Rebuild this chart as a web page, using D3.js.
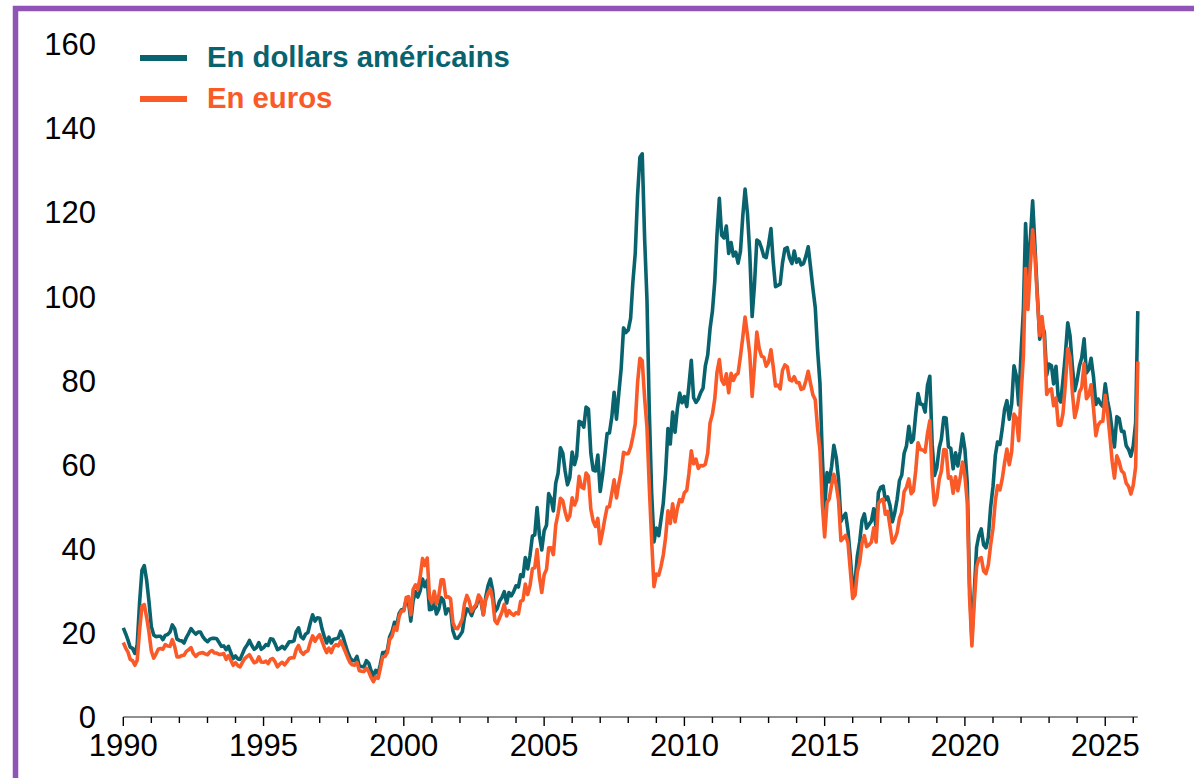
<!DOCTYPE html>
<html lang="fr">
<head>
<meta charset="utf-8">
<title>Prix du pétrole</title>
<script src="https://cdn.jsdelivr.net/npm/d3@7"></script>
<style>
  body { margin: 0; background: #fff; }
  text { font-family: "Liberation Sans", Arial, sans-serif; }
</style>
</head>
<body>
<script>
// monthly values, Jan 1990 .. Mar 2026
const firstMonth = new Date(1990, 0, 1)
const lastMonth = new Date(2026, 2, 1)

const usd = [
  21.2,19.8,18.4,16.6,16.3,15.1,17.2,27.2,34.9,36.0,32.5,27.5,
  21.5,19.5,19.1,19.2,19.2,18.4,19.4,19.6,20.2,21.9,21.0,18.5,
  18.2,18.1,17.6,18.9,19.9,21.0,20.3,19.7,20.2,20.2,19.1,18.4,
  17.9,18.5,18.7,18.7,18.6,17.7,16.8,16.9,16.0,16.8,15.3,13.9,
  14.5,13.8,13.7,15.0,16.3,17.1,18.2,17.0,16.1,16.5,17.7,16.1,
  16.5,17.2,17.0,18.6,18.5,17.4,16.0,16.3,16.8,16.2,17.0,17.9,
  17.9,18.1,20.3,21.2,19.1,18.6,19.7,20.1,22.4,24.3,22.8,23.6,
  23.5,20.9,19.2,17.6,19.0,17.6,18.5,18.6,18.8,20.4,19.1,17.2,
  15.4,14.1,13.4,13.4,14.4,12.1,12.0,11.9,13.4,12.8,11.0,9.8,
  11.1,10.3,12.5,15.3,15.3,15.9,19.1,20.3,22.5,22.0,24.6,25.5,
  25.5,27.8,27.5,22.8,27.6,29.8,28.5,30.0,32.8,31.0,32.5,25.5,
  25.6,27.5,24.5,25.7,28.4,27.7,24.5,25.7,25.6,20.5,18.8,18.7,
  19.4,20.3,23.7,25.7,25.4,24.1,25.7,26.3,28.4,27.5,24.3,28.3,
  31.2,32.8,30.3,25.0,25.8,27.6,28.4,29.8,27.1,29.6,28.8,29.8,
  31.2,30.9,33.8,33.4,37.9,35.2,38.4,43.0,43.3,49.8,43.1,39.7,
  44.3,45.6,53.1,51.9,49.0,55.6,57.9,64.0,62.7,58.5,55.2,56.9,
  63.0,60.0,62.0,70.3,70.0,68.9,73.7,73.2,62.7,58.7,58.5,62.3,
  53.6,57.6,62.1,67.4,67.5,71.3,77.2,70.8,77.1,82.9,92.5,91.4,
  92.0,94.8,103.3,110.2,123.9,133.1,133.9,113.9,99.1,72.8,53.2,41.6,
  44.9,43.1,46.8,50.8,57.9,68.6,64.9,72.5,67.7,73.2,77.0,74.7,
  76.2,73.8,78.8,84.8,75.9,74.8,75.6,77.1,78.2,83.5,86.1,92.3,
  96.5,103.7,114.6,123.3,114.5,113.9,116.7,110.2,112.8,109.6,110.5,107.9,
  110.7,119.3,125.5,119.8,110.3,95.2,102.6,113.4,113.0,111.5,109.5,109.2,
  112.3,116.1,108.5,102.3,102.6,102.9,107.9,111.3,111.6,109.1,107.8,110.8,
  108.1,108.9,107.5,107.8,109.5,111.8,107.0,101.9,97.3,87.3,79.4,62.3,
  49.5,58.1,55.9,59.5,64.6,61.7,56.5,46.5,47.6,48.4,44.3,38.0,
  30.7,32.2,38.2,41.6,46.7,48.3,44.9,45.8,46.6,49.5,44.9,53.3,
  54.6,54.9,51.6,52.3,50.3,46.4,48.5,51.7,56.2,57.5,62.7,64.4,
  69.1,65.3,66.0,72.1,76.9,74.4,74.3,72.5,78.9,81.0,64.8,57.4,
  59.4,64.0,66.1,71.2,71.1,64.2,63.9,59.0,62.8,59.7,63.2,67.3,
  63.6,55.5,32.0,18.4,29.4,40.3,43.2,44.7,40.9,40.2,42.7,49.9,
  54.8,62.3,65.4,64.8,68.5,73.2,75.2,70.8,74.5,83.5,81.1,74.2,
  86.5,97.1,117.3,104.6,113.3,122.7,111.9,100.5,89.8,93.3,91.4,81.3,
  83.9,83.5,79.2,83.4,75.7,74.9,80.1,86.2,93.7,90.6,83.2,77.6,
  80.1,83.5,85.4,89.9,81.8,82.6,85.3,80.9,74.3,75.6,74.4,73.8,
  79.2,75.1,72.5,68.1,64.2,71.4,71.0,67.9,67.9,64.5,63.6,62.0,
  64.5,70.0,96.5
]

const eur = [
  17.7,16.4,15.5,13.7,13.4,12.3,13.5,20.6,26.4,26.7,23.7,20.2,
  15.7,14.0,14.9,16.1,16.3,16.1,17.2,16.9,16.8,18.4,16.8,14.3,
  14.3,14.6,14.7,15.6,16.0,16.5,15.1,14.4,15.0,15.2,15.3,15.0,
  14.8,15.5,15.8,15.2,15.2,14.9,14.9,15.1,13.7,14.6,13.5,12.3,
  12.9,12.2,11.9,13.0,13.9,14.4,14.8,13.8,12.9,13.1,14.3,13.1,
  13.0,13.3,12.7,13.7,13.9,13.1,11.9,12.6,13.0,12.4,13.1,13.9,
  14.1,14.1,16.0,17.0,15.5,14.9,15.5,15.8,17.8,19.3,18.0,18.9,
  19.6,18.0,16.6,15.3,16.4,15.3,16.7,17.2,16.9,18.1,16.8,15.5,
  14.1,12.9,12.4,12.3,13.0,11.0,10.9,10.8,11.6,10.8,9.4,8.4,
  9.6,9.2,11.5,14.3,14.4,15.3,18.4,19.2,21.4,20.6,23.9,25.2,
  25.2,28.4,28.6,24.3,30.3,31.4,30.3,33.3,37.7,36.0,37.8,28.3,
  27.2,29.9,26.9,28.9,32.6,32.6,28.5,28.6,28.1,22.5,21.1,21.0,
  22.0,23.3,26.9,28.9,27.6,25.1,26.0,26.8,29.0,28.1,24.3,27.7,
  29.4,30.4,28.1,22.9,22.2,23.6,24.9,26.8,24.0,25.3,24.6,24.2,
  24.8,24.5,27.5,27.8,31.6,29.1,31.2,35.2,35.5,39.8,33.2,29.6,
  33.8,35.1,40.2,40.2,38.6,45.6,48.3,52.0,51.4,48.8,46.8,47.8,
  52.1,50.4,51.7,57.2,54.7,54.3,58.0,57.2,49.4,46.6,45.3,47.2,
  41.2,44.0,47.0,49.9,50.0,53.2,56.4,52.1,55.5,58.4,62.9,62.6,
  62.6,64.1,66.6,69.7,79.4,85.3,84.7,75.9,68.8,54.7,41.9,31.0,
  34.0,33.7,35.7,38.5,42.6,49.0,46.0,50.7,46.4,49.5,51.7,51.2,
  53.3,53.9,57.9,63.3,60.2,61.3,59.1,59.8,59.7,60.1,62.8,69.9,
  72.0,75.7,81.9,85.0,80.1,79.1,81.6,77.1,81.7,80.0,81.3,81.7,
  85.8,90.4,95.1,90.8,86.2,76.2,83.4,91.5,87.6,85.8,85.5,83.4,
  84.4,87.3,83.5,78.7,78.9,78.0,82.4,83.7,83.3,80.2,79.9,80.9,
  79.5,79.5,77.9,78.1,79.9,82.2,79.3,76.6,75.4,68.7,63.5,50.7,
  42.8,51.0,51.8,55.1,57.7,55.1,51.4,41.9,42.5,43.2,41.4,34.9,
  28.2,29.0,34.4,36.8,41.3,43.1,40.5,40.9,41.6,45.0,41.6,50.8,
  51.5,51.8,48.2,48.9,45.3,41.4,42.2,43.8,47.2,48.7,53.6,54.6,
  56.6,53.1,53.7,58.6,65.2,63.6,63.5,63.0,67.4,70.4,56.8,50.4,
  52.1,56.6,58.5,63.6,63.5,56.8,57.1,53.2,57.1,53.8,56.9,60.6,
  57.3,50.9,28.8,16.9,27.0,35.7,37.6,37.9,34.7,34.1,36.2,40.9,
  44.9,51.5,55.0,54.0,56.6,60.5,63.7,60.0,63.1,72.0,71.1,65.7,
  76.5,85.9,106.6,96.9,106.9,115.8,109.7,99.5,90.7,95.2,89.6,76.7,
  77.7,78.0,74.0,75.8,69.4,69.4,72.2,79.1,87.6,85.5,77.0,71.2,
  73.5,77.3,78.3,84.0,75.7,76.5,79.0,73.5,66.9,69.4,70.2,70.3,
  76.5,72.2,67.1,60.8,56.8,62.1,60.7,58.5,58.0,55.6,54.8,53.0,
  55.1,59.5,84.5
]

const yTicks = [0, 20, 40, 60, 80, 100, 120, 140, 160]
const seriesNames = ["En dollars américains", "En euros"]
const seriesColors = ["#09636e", "#fa5a28"]

const W = 1194, H = 778
const svg = d3.select("body").append("svg")
  .attr("width", W).attr("height", H)

// purple frame (only top and left edges show in the window)
svg.append("rect")
  .attr("x", 15.5).attr("y", 8.5)
  .attr("width", 1300).attr("height", 900)
  .attr("fill", "none")
  .attr("stroke", "#9054b6")
  .attr("stroke-width", 5.5)

const x = d3.scaleTime().domain([firstMonth, lastMonth]).range([123.3, 1137.8])
const y = d3.scaleLinear().domain([0, 160]).range([717, 44])

const months = usd.map((_, i) => d3.timeMonth.offset(firstMonth, i))

// y labels, no axis line
svg.append("g").selectAll("text")
  .data(yTicks)
  .enter().append("text")
  .attr("x", 96)
  .attr("y", d => y(d))
  .attr("dy", "0.36em")
  .attr("text-anchor", "end")
  .attr("font-size", "31px")
  .attr("fill", "#000")
  .text(d => d)

// x axis: yearly ticks, labels every 5 years
const years = d3.range(1990, 2027).map(yr => new Date(yr, 0, 1))
const xAxis = svg.append("g").attr("transform", "translate(0,717)")
xAxis.append("line")
  .attr("x1", x(firstMonth)).attr("x2", x(lastMonth))
  .attr("stroke", "#6b6b6b").attr("stroke-width", 1.6)
xAxis.selectAll("line.tick")
  .data(years)
  .enter().append("line")
  .attr("class", "tick")
  .attr("x1", d => x(d)).attr("x2", d => x(d))
  .attr("y1", 0)
  .attr("y2", d => d.getFullYear() % 5 === 0 ? 9 : 6)
  .attr("stroke", "#000").attr("stroke-width", 1.4)
xAxis.selectAll("text")
  .data(years.filter(d => d.getFullYear() % 5 === 0))
  .enter().append("text")
  .attr("x", d => x(d))
  .attr("y", 39)
  .attr("text-anchor", "middle")
  .attr("font-size", "31px")
  .attr("fill", "#000")
  .text(d => d.getFullYear())

const line = d3.line()
  .x((d, i) => x(months[i]))
  .y(d => y(d))

;[usd, eur].forEach((s, k) => {
  svg.append("path")
    .datum(s)
    .attr("d", line)
    .attr("fill", "none")
    .attr("stroke", seriesColors[k])
    .attr("stroke-width", 3.6)
    .attr("stroke-linejoin", "round")
})

// legend
const legend = svg.append("g")
seriesNames.forEach((name, k) => {
  const ly = 58 + k * 41
  legend.append("line")
    .attr("x1", 140).attr("x2", 187)
    .attr("y1", ly).attr("y2", ly)
    .attr("stroke", seriesColors[k])
    .attr("stroke-width", 6)
  legend.append("text")
    .attr("x", 207).attr("y", ly + 8.5)
    .attr("font-size", "29.3px")
    .attr("font-weight", "bold")
    .attr("fill", seriesColors[k])
    .text(name)
})
</script>
</body>
</html>
